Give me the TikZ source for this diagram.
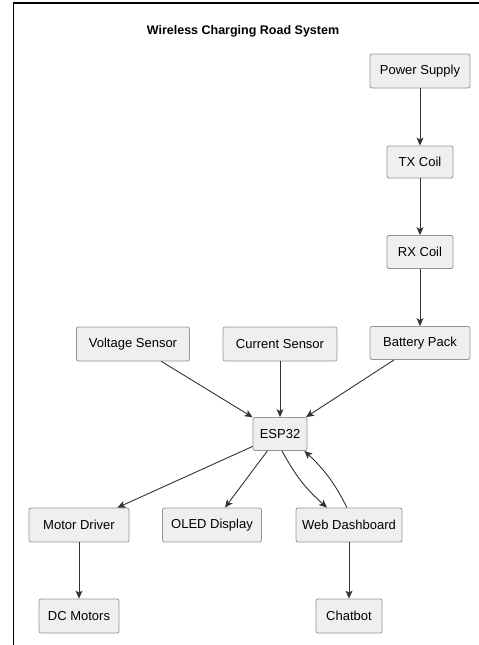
\documentclass[tikz,border=0pt]{standalone}
\usepackage{fontspec}
\setmainfont{Liberation Sans}
\usetikzlibrary{arrows.meta}
\definecolor{boxfill}{HTML}{EFEFEF}
\definecolor{boxline}{HTML}{959595}
\definecolor{wire}{HTML}{333333}
\begin{document}
\begin{tikzpicture}[x=1pt,y=-1pt,
  blk/.style={draw=boxline, fill=boxfill, rounded corners=2pt, line width=0.8pt,
    inner sep=0pt, font=\fontsize{13}{15}\selectfont},
  arr/.style={draw=wire, line width=0.9pt, -{Stealth[length=8pt,width=7pt,inset=2pt]}}]
\useasboundingbox (0,0) rectangle (479,645);
% outer frame (only top and left edges visible)
\draw[line width=1.6pt] (13.5,645) -- (13.5,3) -- (479,3);

\node[font=\bfseries\fontsize{12.5}{14}\selectfont] (title) at (243,31) {Wireless Charging Road System};

% power chain
\node[blk, minimum width=100pt, minimum height=34pt] (ps)  at (420,71)  {Power Supply};
\node[blk, minimum width=66pt,  minimum height=32pt] (tx)  at (420,162) {TX Coil};
\node[blk, minimum width=66pt,  minimum height=33pt] (rx)  at (420,252) {RX Coil};
\node[blk, minimum width=100pt, minimum height=33pt] (bat) at (420,343) {Battery Pack};

% sensors
\node[blk, minimum width=113pt, minimum height=34pt] (vs) at (133,344) {Voltage Sensor};
\node[blk, minimum width=114pt, minimum height=34pt] (cs) at (280,344) {Current Sensor};

% controller
\node[blk, minimum width=54pt, minimum height=33pt] (esp) at (280,434) {ESP32};

% outputs
\node[blk, minimum width=100pt, minimum height=34pt] (md)   at (79,525)  {Motor Driver};
\node[blk, minimum width=99pt,  minimum height=34pt] (oled) at (212,525) {OLED Display};
\node[blk, minimum width=106pt, minimum height=34pt] (web)  at (349,525) {Web Dashboard};
\node[blk, minimum width=80pt,  minimum height=34pt] (dc)   at (79,616)  {DC Motors};
\node[blk, minimum width=66pt,  minimum height=34pt] (chat) at (349,616) {Chatbot};

% connectors
\draw[arr] (ps) -- (tx);
\draw[arr] (tx) -- (rx);
\draw[arr] (rx) -- (bat);
\draw[arr] (vs) -- (esp);
\draw[arr] (cs) -- (esp);
\draw[arr] (bat) -- (esp);
\draw[arr] (esp) -- (md);
\draw[arr] (esp) -- (oled);
\draw[arr] ([xshift=2pt]esp.south) to[bend right=10] ([xshift=-22pt]web.north);
\draw[arr] ([xshift=-2pt]web.north) to[bend right=10] ([xshift=-3pt]esp.south east);
\draw[arr] (md) -- (dc);
\draw[arr] (web) -- (chat);
\end{tikzpicture}
\end{document}
